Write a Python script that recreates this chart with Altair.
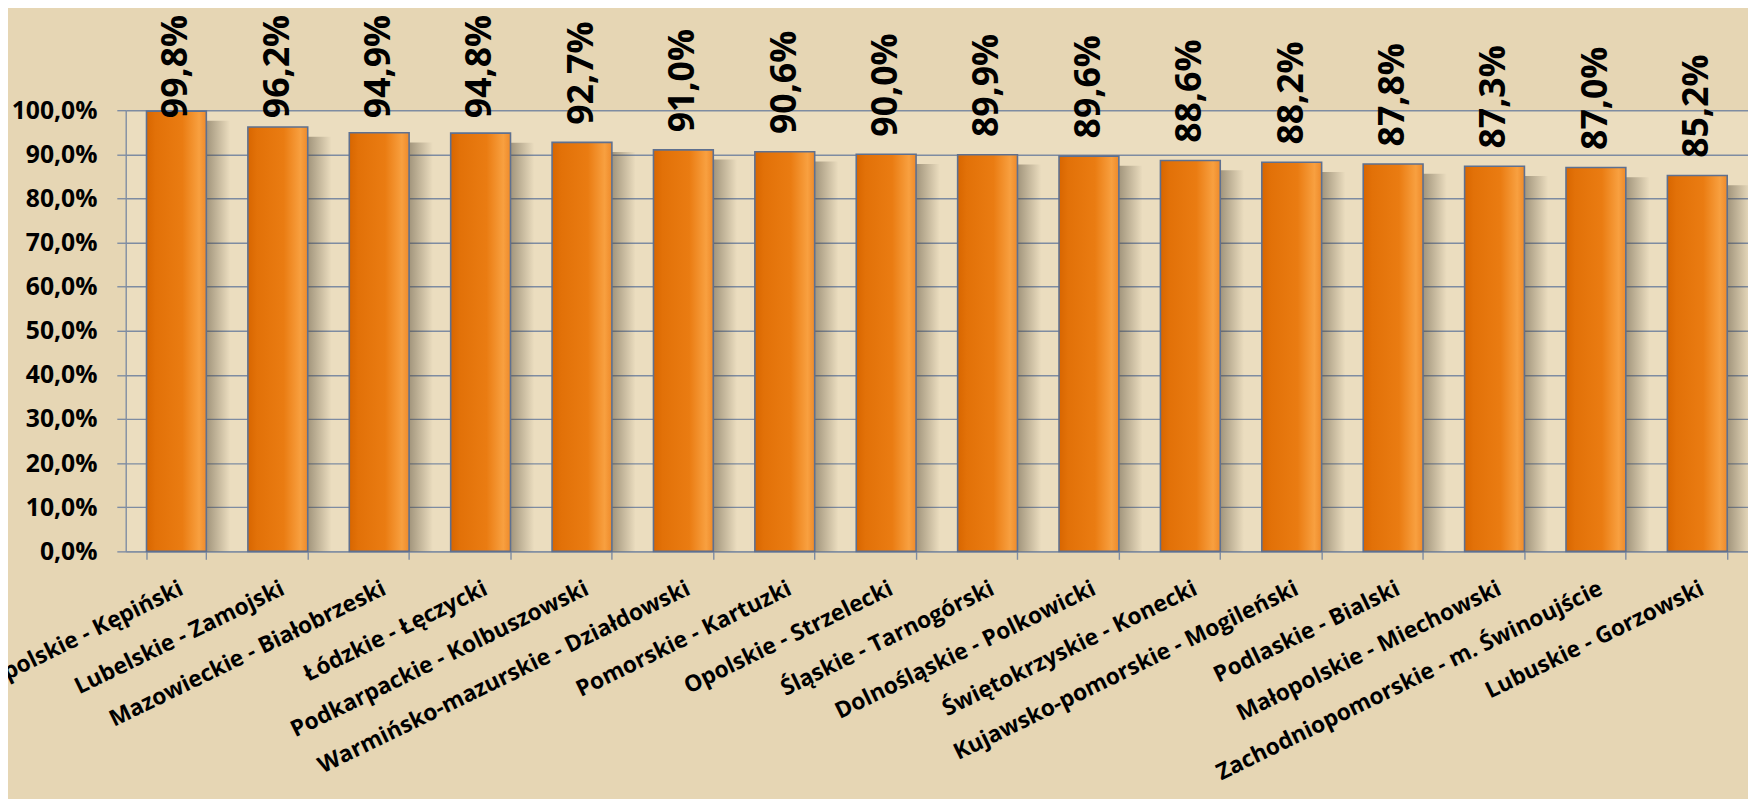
import altair as alt
import pandas as pd

categories = [
    "Wielkopolskie - Kępiński",
    "Lubelskie - Zamojski",
    "Mazowieckie - Białobrzeski",
    "Łódzkie - Łęczycki",
    "Podkarpackie - Kolbuszowski",
    "Warmińsko-mazurskie - Działdowski",
    "Pomorskie - Kartuzki",
    "Opolskie - Strzelecki",
    "Śląskie - Tarnogórski",
    "Dolnośląskie - Polkowicki",
    "Świętokrzyskie - Konecki",
    "Kujawsko-pomorskie - Mogileński",
    "Podlaskie - Bialski",
    "Małopolskie - Miechowski",
    "Zachodniopomorskie - m. Świnoujście",
    "Lubuskie - Gorzowski",
]
values = [99.8, 96.2, 94.9, 94.8, 92.7, 91.0, 90.6, 90.0, 89.9, 89.6, 88.6, 88.2, 87.8, 87.3, 87.0, 85.2]
y_ticks = [0, 10, 20, 30, 40, 50, 60, 70, 80, 90, 100]

df = pd.DataFrame({"cat": categories, "val": values})

FONT = "Open Sans"
GRID = "#7E8CA2"

x_enc = alt.X(
    "cat:N",
    sort=categories,
    title=None,
    scale=alt.Scale(paddingInner=0.41, paddingOuter=0.205),
    axis=alt.Axis(
        labelAngle=-26,
        labelAlign="right",
        labelBaseline="top",
        labelFont=FONT,
        labelFontSize=23,
        labelFontWeight="bold",
        labelColor="#000000",
        labelLimit=800,
        labelOverlap=False,
        labelPadding=18,
        tickBand="extent",
        tickSize=8,
        tickColor=GRID,
        tickWidth=1.4,
        domainColor=GRID,
        domainWidth=1.4,
        grid=False,
    ),
)

y_scale = alt.Scale(domain=[0, 100], nice=False)

shadow = alt.Chart(df).transform_calculate(
    stop="datum.val - 2.2"
).mark_bar(
    xOffset=24,
    fill=alt.Gradient(
        gradient="linear",
        x1=0, x2=1, y1=0, y2=0,
        stops=[
            alt.GradientStop(color="rgba(75,64,45,0.70)", offset=0),
            alt.GradientStop(color="rgba(75,64,45,0.52)", offset=0.55),
            alt.GradientStop(color="rgba(75,64,45,0.0)", offset=1),
        ],
    ),
).encode(
    x=x_enc,
    y=alt.Y("stop:Q", scale=y_scale),
)

bars = alt.Chart(df).mark_bar(
    stroke="#5E7090",
    strokeWidth=1.6,
    fill=alt.Gradient(
        gradient="linear",
        x1=0, x2=1, y1=0, y2=0,
        stops=[
            alt.GradientStop(color="#D86600", offset=0),
            alt.GradientStop(color="#E27108", offset=0.15),
            alt.GradientStop(color="#EA7C12", offset=0.6),
            alt.GradientStop(color="#F8A040", offset=0.88),
            alt.GradientStop(color="#EE8A2A", offset=1),
        ],
    ),
).encode(
    x=x_enc,
    y=alt.Y(
        "val:Q",
        scale=y_scale,
        title=None,
        axis=alt.Axis(
            values=y_ticks,
            labelExpr="replace(format(datum.value / 100, '.1%'), '.', ',')",
            labelFont=FONT,
            labelFontSize=25,
            labelFontWeight="bold",
            labelColor="#000000",
            labelPadding=20,
            tickSize=9,
            tickColor=GRID,
            tickWidth=1.4,
            domainColor=GRID,
            domainWidth=1.4,
            gridColor=GRID,
            gridWidth=1.4,
            gridOpacity=1,
        ),
    ),
)

labels = alt.Chart(df).transform_calculate(
    lab="replace(format(datum.val / 100, '.1%'), '.', ',')",
    pos="min(datum.val + 4.0, 98.2)",
).mark_text(
    angle=270,
    align="left",
    baseline="middle",
    font=FONT,
    fontSize=36,
    fontWeight="bold",
    color="#000000",
).encode(
    x=x_enc,
    y=alt.Y("pos:Q", scale=y_scale),
    text="lab:N",
)

chart = alt.layer(shadow, bars, labels).properties(
    width=1640,
    height=446,
    autosize=alt.AutoSizeParams(type="none"),
    padding={"left": 119, "top": 99, "right": 0, "bottom": 246},
    background="#E6D6B4",
).configure_view(
    stroke=None,
    fill="#EBDDBF",
)

chart.save("out.html", embed_options={"renderer": "svg", "actions": False})
